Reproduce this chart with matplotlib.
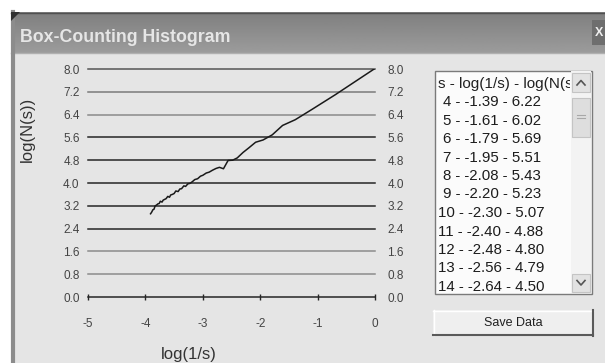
import matplotlib
matplotlib.use('Agg')
import matplotlib.pyplot as plt
from matplotlib.patches import Rectangle, Polygon
import numpy as np

plt.rcParams['font.family'] = ['Liberation Sans', 'DejaVu Sans']

s_vals = [1, 2, 3, 4, 5, 6, 7, 8, 9, 10, 11, 12, 13, 14, 15, 16, 17, 18, 19, 20,
          21, 22, 23, 24, 25, 26, 27, 28, 29, 30, 31, 32, 33, 34, 35, 36, 37, 38,
          39, 40, 41, 42, 43, 44, 45, 46, 47, 48, 49, 50]
log_inv_s = [0.00, -0.69, -1.10, -1.39, -1.61, -1.79, -1.95, -2.08, -2.20, -2.30,
             -2.40, -2.48, -2.56, -2.64, -2.71, -2.77, -2.83, -2.89, -2.94, -3.00,
             -3.04, -3.09, -3.14, -3.18, -3.22, -3.26, -3.30, -3.33, -3.37, -3.40,
             -3.43, -3.47, -3.50, -3.53, -3.56, -3.58, -3.61, -3.64, -3.66, -3.69,
             -3.71, -3.74, -3.76, -3.78, -3.81, -3.83, -3.85, -3.87, -3.89, -3.91]
log_ns = [8.02, 7.10, 6.58, 6.22, 6.02, 5.69, 5.51, 5.43, 5.23, 5.07,
          4.88, 4.80, 4.79, 4.50, 4.55, 4.51, 4.45, 4.38, 4.35, 4.27,
          4.24, 4.15, 4.12, 4.05, 3.99, 3.97, 3.88, 3.90, 3.80, 3.79,
          3.70, 3.72, 3.63, 3.60, 3.58, 3.50, 3.53, 3.45, 3.43, 3.40,
          3.33, 3.36, 3.28, 3.27, 3.22, 3.20, 3.08, 3.06, 2.98, 2.92]

y_ticks = [0.0, 0.8, 1.6, 2.4, 3.2, 4.0, 4.8, 5.6, 6.4, 7.2, 8.0]
x_ticks = [-5, -4, -3, -2, -1, 0]
list_rows = 11  # rows visible in the list box (s = 4 .. 14)

W, H = 605, 363
fig = plt.figure(figsize=(W / 100, H / 100), dpi=100)
fig.patch.set_facecolor('white')

# window chrome drawn in pixel coordinates
bg = fig.add_axes([0, 0, 1, 1], zorder=0)
bg.set_axis_off()
body = '#e5e5e5'
bg.add_patch(Rectangle((11, 53), W - 11, H - 53, facecolor=body, edgecolor='none'))
grad = np.linspace(0.50, 0.61, 40)[:, None]
bg.imshow(grad, extent=[11, W, 53, 12], cmap='gray', vmin=0, vmax=1, aspect='auto', zorder=1)
bg.plot([11, W], [12.5, 12.5], color='#505050', lw=1, zorder=2)
bg.plot([11, W], [53, 53], color='#b0b0b0', lw=1, zorder=2)
bg.plot([12.5, 12.5], [12, H], color='#8c8c8c', lw=3, zorder=2)
bg.add_patch(Polygon([[11, 12], [20, 12], [11, 21]], closed=True, facecolor='#303030',
                     edgecolor='none', zorder=3))
bg.text(20, 42, 'Box-Counting Histogram', fontsize=12.8, fontweight='bold', color='#e6e6e6', zorder=4)
bg.add_patch(Rectangle((592, 20), 14, 25, facecolor='#6e6e6e', edgecolor='none', zorder=3))
bg.text(599, 33, 'X', fontsize=9, fontweight='bold', color='#f0f0f0', ha='center', va='center', zorder=4)

# list box frame and scrollbar
bg.add_patch(Rectangle((434.5, 70.5), 157, 223, facecolor='#fbfbfb', edgecolor='#7a7a7a', lw=1))
bg.add_patch(Rectangle((571, 71), 20, 222, facecolor='#f3f3f3', edgecolor='none'))
for y0, y1 in [(73, 92), (274, 292)]:
    bg.add_patch(Rectangle((572, y0), 18, y1 - y0, facecolor='#e2e2e2', edgecolor='#c4c4c4', lw=0.8))
bg.plot([577, 581, 585], [85, 80.5, 85], color='#555555', lw=1.2)
bg.plot([577, 581, 585], [280.5, 285, 280.5], color='#555555', lw=1.2)
bg.add_patch(Rectangle((572, 98), 18, 39, facecolor='#dedede', edgecolor='#c4c4c4', lw=0.8))
for yy in [114.5, 117.5]:
    bg.plot([577, 585], [yy, yy], color='#a8a8a8', lw=0.8)

# Save Data button
bg.add_patch(Rectangle((433, 310), 160, 25, facecolor='#efefef', edgecolor='none'))
bg.plot([433, 593], [310.5, 310.5], color='white', lw=1)
bg.plot([433.5, 433.5], [310, 335], color='white', lw=1)
bg.plot([433, 593], [335, 335], color='#5a5a5a', lw=1.5)
bg.plot([593, 593], [310, 335.5], color='#5a5a5a', lw=1.5)
bg.text(513, 323, 'Save Data', fontsize=9, color='#202020', ha='center', va='center')

bg.set_xlim(0, W)
bg.set_ylim(H, 0)

# list box contents
al = fig.add_axes([435 / W, 1 - 293 / H, (570 - 435) / W, (293 - 71) / H], zorder=2)
al.set_xlim(435, 570)
al.set_ylim(293, 71)
al.set_axis_off()
al.text(438, 83.5, 's - log(1/s) - log(N(s))', fontsize=11, color='#202020', va='center', clip_on=True)
for k in range(list_rows):
    i = k + 3
    row = '%d - %.2f - %.2f' % (s_vals[i], log_inv_s[i], log_ns[i])
    xpos = 443 if s_vals[i] < 10 else 438
    al.text(xpos, 102 + k * 18.5, row, fontsize=10.8, color='#1c1c1c', va='center', clip_on=True)

# chart
left, right, top, bottom = 88, 375, 69, 297
ax = fig.add_axes([left / W, 1 - bottom / H, (right - left) / W, (bottom - top) / H], zorder=1)
ax.patch.set_alpha(0)
ax.set_xlim(-5, 0)
ax.set_ylim(0, 8)

grid_col = {0.8: '#8c8c8c', 1.6: '#8c8c8c', 6.4: '#8a8a8a', 7.2: '#7a7a7a', 8.0: '#555555'}
for v in y_ticks[1:]:
    ax.axhline(v, color=grid_col.get(v, '#262626'), lw=1.1, clip_on=False, zorder=1)

ax.plot(log_inv_s, log_ns, color='#1a1a1a', lw=1.1, zorder=3)

for sp in ['top', 'left', 'right']:
    ax.spines[sp].set_visible(False)
ax.spines['bottom'].set_color('#262626')
ax.spines['bottom'].set_linewidth(1.1)

ax.set_xticks(x_ticks)
ax.set_xticklabels(['%d' % v for v in x_ticks])
ax.tick_params(axis='x', direction='inout', length=5, width=1, color='#262626',
               pad=12.5, labelsize=8.5, labelcolor='#444444')
ax.set_yticks(y_ticks)
ax.set_yticklabels(['%.1f' % v for v in y_ticks])
ax.tick_params(axis='y', length=0, pad=6, labelsize=8.5, labelcolor='#444444')

ax2 = ax.twinx()
ax2.set_ylim(0, 8)
ax2.set_yticks(y_ticks)
ax2.set_yticklabels(['%.1f' % v for v in y_ticks])
ax2.tick_params(axis='y', length=0, pad=9, labelsize=8.5, labelcolor='#444444')
for sp in ax2.spines.values():
    sp.set_visible(False)

fig.text(189 / W, 1 - 354 / H, 'log(1/s)', fontsize=12, color='#333333', ha='center', va='center')
fig.text(27.5 / W, 1 - 129 / H, 'log(N(s))', fontsize=12, color='#333333', rotation=90,
         ha='center', va='center')

fig.savefig('out.png', dpi=100)
